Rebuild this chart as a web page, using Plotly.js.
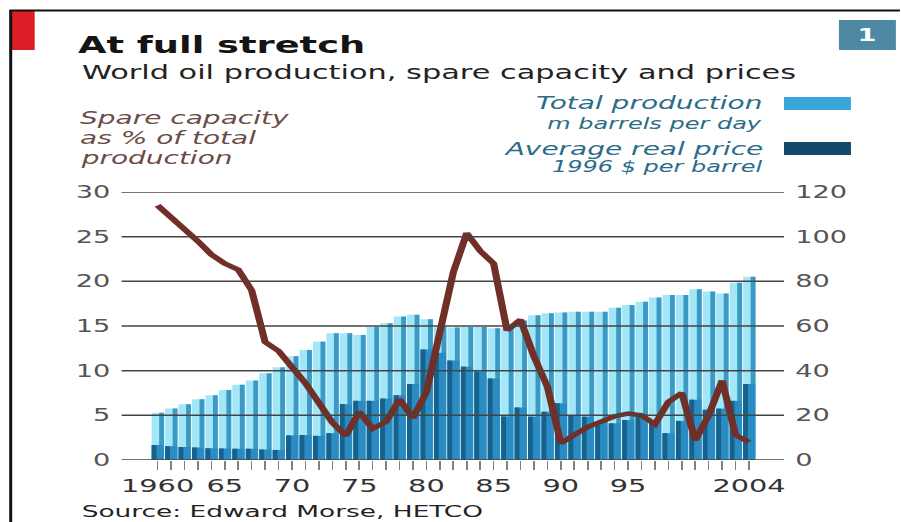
<!DOCTYPE html>
<html>
<head>
<meta charset="utf-8">
<script src="https://cdn.plot.ly/plotly-3.0.1.min.js"></script>
<style>
  html, body { margin: 0; padding: 0; background: #ffffff; overflow: hidden; }
  #wrap { width: 901px; height: 522px; overflow: hidden; position: relative; }
  #chart { height: 522px; transform-origin: 0 0; }
</style>
</head>
<body>
<div id="wrap"><div id="chart"></div></div>
<script>
// World oil production, spare capacity and real prices, 1960-2004
const years = [1960,1961,1962,1963,1964,1965,1966,1967,1968,1969,
               1970,1971,1972,1973,1974,1975,1976,1977,1978,1979,
               1980,1981,1982,1983,1984,1985,1986,1987,1988,1989,
               1990,1991,1992,1993,1994,1995,1996,1997,1998,1999,
               2000,2001,2002,2003,2004];

// Total production, m barrels per day (right scale)
const production = [21.2,23.1,25.0,27.2,29.0,31.3,33.7,35.6,38.8,41.5,
                    46.5,49.3,53.0,56.8,56.8,56.0,59.7,61.2,64.2,65.0,
                    63.0,59.7,59.3,59.5,59.5,59.0,58.8,62.5,64.8,65.7,
                    66.0,66.4,66.4,66.4,68.2,69.4,70.9,72.8,73.9,73.9,
                    76.4,75.4,74.6,79.4,82.0];

// Average real price, 1996 $ per barrel (right scale)
const price = [6.7,6.2,5.8,5.6,5.3,5.2,5.0,5.0,4.7,4.5,
               11.0,11.2,10.8,12.0,25.0,26.5,26.5,27.5,29.0,34.0,
               49.5,48.0,44.5,41.8,39.6,36.5,19.5,23.5,19.4,21.6,
               25.4,20.1,19.4,17.1,16.4,17.9,19.4,17.0,12.0,17.5,
               27.0,22.5,23.0,26.5,34.0];

// Spare capacity as % of total production (left scale)
const spare = [28.5,27.2,25.9,24.5,23.0,22.0,21.3,19.0,13.2,12.2,
               10.4,8.6,6.4,4.2,2.7,5.4,3.5,4.3,6.8,4.7,
               7.6,14.2,21.0,25.4,23.4,22.0,14.5,15.7,11.6,8.2,
               1.9,2.8,3.7,4.3,4.9,5.2,5.0,4.0,6.5,7.5,
               2.2,5.0,8.9,2.8,2.0];

const yearLabels = {1960:'1960',1965:'65',1970:'70',1975:'75',1980:'80',
                    1985:'85',1990:'90',1995:'95',2004:'2004'};
const priceTicks = [0,20,40,60,80,100,120];
const spareTicks = [0,5,10,15,20,25,30];

// The artwork is laid out narrow and stretched sideways to the page width.
const S = 1.6;
const W = 901 / S;
const H = 522;
const ML = 122 / S, MR = (901 - 785) / S, MT = 192, MB = H - 460;
const PW = W - ML - MR;
const px = x => (x / S - ML) / PW;          // page x -> paper x
const py = y => (460 - y) / (460 - MT);     // page y -> paper y

const chart = document.getElementById('chart');
chart.style.width = W + 'px';
chart.style.transform = 'scaleX(' + S + ')';

const FONT = 'DejaVu Sans';

const traces = [
  { type: 'bar', name: 'Total production', x: years, y: production,
    width: 0.94, offset: -0.44, marker: { color: '#a3e6f8', line: { width: 0 } },
    showlegend: false, hoverinfo: 'skip' },
  { type: 'bar', name: 'Total production', x: years, y: production,
    width: 0.36, offset: 0.12, marker: { color: '#3a9ac4', line: { width: 0 } },
    showlegend: false, hoverinfo: 'skip' },
  { type: 'bar', name: 'Average real price', x: years, y: price,
    width: 0.9, offset: -0.44, marker: { color: '#2a8cc2', line: { width: 0 } },
    showlegend: false, hoverinfo: 'skip' },
  { type: 'bar', name: 'Average real price', x: years, y: price,
    width: 0.36, offset: -0.44, marker: { color: '#16628c', line: { width: 0 } },
    showlegend: false, hoverinfo: 'skip' },
  { type: 'scatter', mode: 'lines', name: 'Spare capacity', x: years, y: spare,
    yaxis: 'y2', line: { color: '#722f28', width: 4.5 },
    showlegend: false, hoverinfo: 'skip' }
];

const shapes = [];
priceTicks.forEach(v => shapes.push({
  type: 'line', layer: 'above', xref: 'paper', x0: 0, x1: 1, yref: 'y', y0: v, y1: v,
  line: { color: '#444444', width: 1.5 }
}));
// frame, flag and legend keys
shapes.push(
  { type: 'rect', xref: 'paper', yref: 'paper', x0: px(10), x1: px(35), y0: py(50), y1: py(10),
    fillcolor: '#dc1f26', line: { width: 0 } },
  { type: 'line', xref: 'paper', yref: 'paper', x0: px(10), x1: px(901), y0: py(10.5), y1: py(10.5),
    line: { color: '#111111', width: 2 } },
  { type: 'rect', xref: 'paper', yref: 'paper', x0: px(9.5), x1: px(12.5), y0: py(522), y1: py(10),
    fillcolor: '#111111', line: { width: 0 } },
  { type: 'rect', xref: 'paper', yref: 'paper', x0: px(840), x1: px(897), y0: py(50), y1: py(20),
    fillcolor: '#4e89a3', line: { width: 0 } },
  { type: 'rect', xref: 'paper', yref: 'paper', x0: px(785), x1: px(852), y0: py(110), y1: py(97),
    fillcolor: '#3aa6da', line: { width: 0 } },
  { type: 'rect', xref: 'paper', yref: 'paper', x0: px(785), x1: px(852), y0: py(155), y1: py(142),
    fillcolor: '#15496a', line: { width: 0 } }
);

function note(text, x, y, anchor, font) {
  return {
    text: text, xref: 'paper', yref: 'paper', x: px(x), y: py(y),
    xanchor: anchor, yanchor: 'middle', showarrow: false,
    font: Object.assign({ family: FONT }, font)
  };
}

const spareFont = { size: 17.5, color: '#6b4c46', style: 'italic' };
const keyFont = { size: 17.5, color: '#2b6c88', style: 'italic' };
const keySubFont = { size: 15, color: '#2b6c88', style: 'italic' };

const annotations = [
  note('World oil production, spare capacity and prices', 79, 72, 'left', { size: 19, color: '#222222' }),
  note('Spare capacity', 77, 118, 'left', spareFont),
  note('as % of total', 77, 138, 'left', spareFont),
  note('production', 77, 158, 'left', spareFont),
  note('Total production', 767, 103, 'right', keyFont),
  note('m barrels per day', 767, 124, 'right', keySubFont),
  note('Average real price', 767, 149, 'right', keyFont),
  note('1996 $ per barrel', 767, 167, 'right', keySubFont),
  note('1', 868.5, 35, 'center', { size: 17, color: '#ffffff', weight: 'bold' }),
  note('Source: Edward Morse, HETCO', 78, 511, 'left', { size: 16.5, color: '#222222' })
];

const layout = {
  width: W, height: H,
  margin: { l: ML, r: MR, t: MT, b: MB, pad: 0 },
  paper_bgcolor: '#ffffff', plot_bgcolor: '#ffffff',
  barmode: 'overlay',
  showlegend: false,
  title: {
    text: 'At full stretch', xref: 'container', yref: 'container',
    x: 78 / 901, xanchor: 'left', y: 1 - 45 / H, yanchor: 'middle',
    font: { family: FONT, size: 23, weight: 'bold', color: '#141414' }
  },
  xaxis: {
    range: [1960 - 36 / 13.45, 2004 + 35 / 13.45],
    tickvals: years, ticktext: years.map(y => yearLabels[y] || ''),
    ticks: 'outside', ticklen: 9, tickwidth: 1, tickcolor: '#8b7d74',
    showgrid: false, zeroline: false, showline: false,
    tickfont: { family: FONT, size: 18, color: '#333333' }
  },
  yaxis: {
    range: [0, 120], side: 'right', tickvals: priceTicks,
    ticks: '', showgrid: false, zeroline: false, showline: false,
    ticklabelstandoff: 6,
    tickfont: { family: FONT, size: 17, color: '#555555' }
  },
  yaxis2: {
    range: [0, 30], side: 'left', overlaying: 'y', tickvals: spareTicks,
    ticks: '', showgrid: false, zeroline: false, showline: false,
    ticklabelstandoff: 6,
    tickfont: { family: FONT, size: 17, color: '#555555' }
  },
  shapes: shapes,
  annotations: annotations
};

Plotly.newPlot(chart, traces, layout, { staticPlot: true, responsive: false, displayModeBar: false });
</script>
</body>
</html>
